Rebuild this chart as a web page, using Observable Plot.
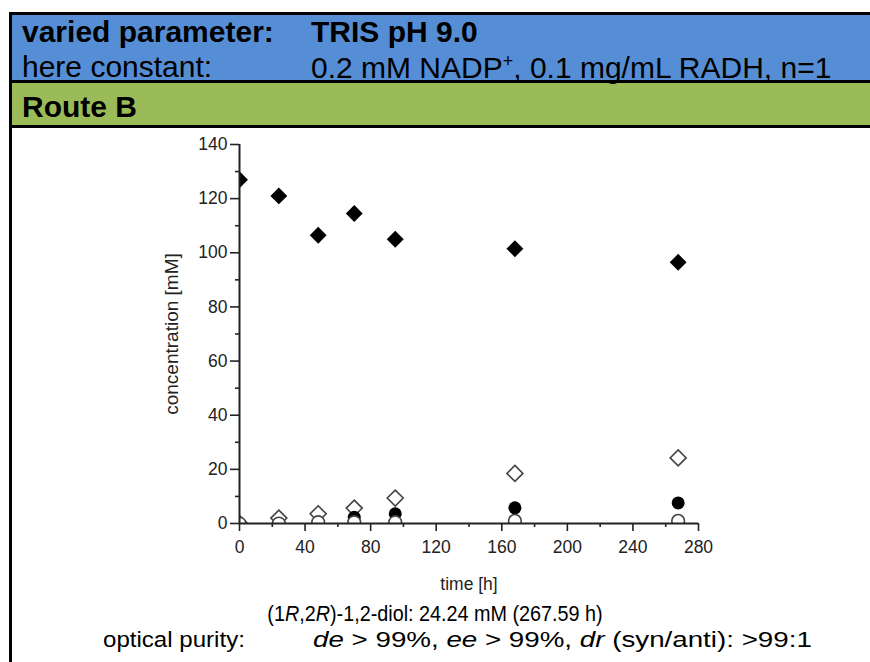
<!DOCTYPE html>
<html>
<head>
<meta charset="utf-8">
<script src="https://cdn.jsdelivr.net/npm/d3@7"></script>
<script src="https://cdn.jsdelivr.net/npm/@observablehq/plot@0.6"></script>
<style>
  html, body { margin: 0; padding: 0; background: #fff; }
  body { width: 870px; height: 662px; position: relative; overflow: hidden; font-family: "Liberation Sans", Arial, sans-serif; color: #000; }
  .box { position: absolute; left: 9px; top: 12px; width: 880px; height: 700px; border-left: 3px solid #000; border-top: 3px solid #000; }
  .blue { position: absolute; left: 12px; top: 15px; width: 870px; height: 65px; background: #558ED5; border-bottom: 3px solid #000; }
  .green { position: absolute; left: 12px; top: 83px; width: 870px; height: 42px; background: #9BBB59; border-bottom: 3px solid #000; }
  .t { position: absolute; white-space: nowrap; font-size: 30px; line-height: 1; }
  .b { font-weight: bold; }
  .cap { position: absolute; white-space: nowrap; font-size: 21.5px; line-height: 1; transform-origin: 0 0; }
  #chart { position: absolute; left: 150px; top: 130px; }
</style>
</head>
<body>
<div class="box"></div>
<div class="blue"></div>
<div class="green"></div>
<div class="t b" style="left:22px; top:17px;">varied parameter:</div>
<div class="t b" style="left:311px; top:17px;">TRIS pH 9.0</div>
<div class="t" style="left:22px; top:52px;">here constant:</div>
<div class="t" style="left:311px; top:52px;">0.2 mM NADP<sup style="font-size:18px; vertical-align: 11px;">+</sup>, 0.1 mg/mL RADH, n=1</div>
<div class="t b" style="left:22px; top:92px;">Route B</div>
<div id="chart"></div>
<div class="cap" style="left:435px; top:604px; transform: translateX(-50%) scaleX(0.92); transform-origin: 50% 0;">(1<i>R</i>,2<i>R</i>)-1,2-diol: 24.24 mM (267.59 h)</div>
<div class="cap" style="left:103px; top:630px; transform: scaleX(1.12);">optical purity:</div>
<div class="cap" style="left:313px; top:630px; transform: scaleX(1.29);"><i>de</i> &gt; 99%, <i>ee</i> &gt; 99%, <i>dr</i> (syn/anti): &gt;99:1</div>
<script>
// Data
const time = [0, 24, 48, 70, 95, 168, 267.59];
const filledDiamond = [127, 121, 106.5, 114.5, 105, 101.5, 96.5];
const openDiamond = [0, 2, 3.6, 5.7, 9.4, 18.5, 24.24];
const filledCircle = [0, 0, 0, 2.3, 3.6, 5.8, 7.6];
const openCircle = [0, 0, 0.5, 0.5, 0.5, 1, 1];

const xTicks = [0, 40, 80, 120, 160, 200, 240, 280];
const xMinor = [20, 60, 100, 140, 180, 220, 260];
const yTicks = [0, 20, 40, 60, 80, 100, 120, 140];
const yMinor = [10, 30, 50, 70, 90, 110, 130];

const rows = (vals) => time.map((t, i) => ({t, v: vals[i]}));

const axisColor = "#222";
const chart = Plot.plot({
  width: 600,
  height: 470,
  marginLeft: 89,
  marginRight: 52,
  marginTop: 14,
  marginBottom: 77,
  style: { fontFamily: "Liberation Sans, Arial, sans-serif", fontSize: "17px", color: "#222", background: "transparent" },
  x: { domain: [0, 280] },
  y: { domain: [0, 140] },
  marks: [
    Plot.axisY({ ticks: yMinor, tickSize: 4, text: null, label: null, stroke: axisColor, strokeWidth: 1.6 }),
    Plot.axisY({ ticks: yTicks, tickSize: 9, tickPadding: 3, label: null, stroke: axisColor, strokeWidth: 1.6, fontSize: 17.5 }),
    Plot.axisY({ ticks: [], label: "concentration [mM]", labelAnchor: "center", labelArrow: "none", labelOffset: 75, fontSize: 19, fill: "#222" }),
    Plot.axisX({ ticks: xMinor, tickSize: 4, text: null, label: null, stroke: axisColor, strokeWidth: 1.6 }),
    Plot.axisX({ ticks: xTicks, tickSize: 8, tickPadding: 9, label: "time [h]", labelAnchor: "center", labelArrow: "none", labelOffset: 66, stroke: axisColor, strokeWidth: 1.6, fontSize: 17.5 }),
    Plot.dot(rows(openDiamond), { x: "t", y: "v", symbol: "diamond2", r: 7.2, fill: "white", stroke: "#444", strokeWidth: 1.6, clip: true }),
    Plot.dot(rows(filledCircle), { x: "t", y: "v", symbol: "circle", r: 6.5, fill: "#000", stroke: "none", clip: true }),
    Plot.dot(rows(openCircle), { x: "t", y: "v", symbol: "circle", r: 6.3, fill: "white", stroke: "#444", strokeWidth: 1.6, clip: true }),
    Plot.dot(rows(filledDiamond), { x: "t", y: "v", symbol: "diamond2", r: 7.6, fill: "#000", stroke: "none", clip: true }),
    Plot.ruleX([0], { y1: 0, y2: 140, stroke: axisColor, strokeWidth: 2 }),
    Plot.ruleY([0], { x1: 0, x2: 280, stroke: axisColor, strokeWidth: 2 })
  ]
});
document.getElementById("chart").appendChild(chart);
</script>
</body>
</html>
